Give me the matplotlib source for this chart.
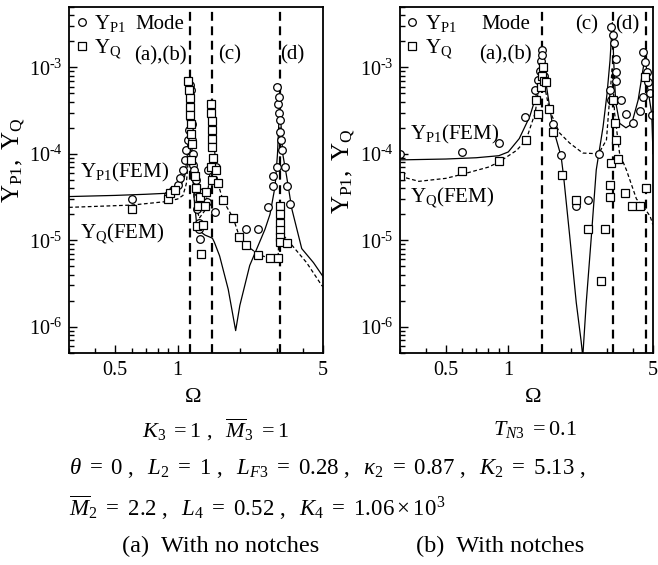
import numpy as np
import matplotlib
matplotlib.use('Agg')
import matplotlib.pyplot as plt
from matplotlib.ticker import FixedLocator, FixedFormatter, NullFormatter, LogLocator, FuncFormatter
from matplotlib.lines import Line2D

plt.rcParams['font.family'] = ['Liberation Serif', 'DejaVu Serif']
plt.rcParams['mathtext.fontset'] = 'custom'
plt.rcParams['mathtext.rm'] = 'Liberation Serif'
plt.rcParams['mathtext.it'] = 'Liberation Serif:italic'
plt.rcParams['mathtext.bf'] = 'Liberation Serif:bold'

# ---------- (a) with no notches ----------
mode_a = [1.15, 1.47, 3.1]

om_p1_fem_a = [0.3, 0.5, 0.7, 0.9, 1.0, 1.04, 1.08, 1.11, 1.13, 1.15, 1.17, 1.2, 1.24, 1.35, 1.45,
               1.47, 1.5, 1.59, 1.75, 1.9, 1.99, 2.22, 2.49, 2.63, 2.78, 2.94, 3.02, 3.07, 3.1,
               3.13, 3.2, 3.34, 3.54, 3.95, 4.5, 5.0]
y_p1_fem_a = [3.2e-5, 3.3e-5, 3.4e-5, 3.5e-5, 3.8e-5, 4.4e-5, 5.5e-5, 9e-5, 2.2e-4, 7e-4, 1.2e-4,
              3e-5, 1.35e-5, 1.15e-5, 1.07e-5, 1.05e-5, 9.5e-6, 6.6e-6, 2.7e-6, 9e-7, 1.76e-6,
              5.1e-6, 9.8e-6, 1.34e-5, 2.0e-5, 4.2e-5, 1.0e-4, 2.5e-4, 6e-4, 2.5e-4, 1.0e-4,
              5.5e-5, 2.3e-5, 8e-6, 5.5e-6, 3.8e-6]

om_q_fem_a = [0.3, 0.6, 0.88, 1.0, 1.06, 1.1, 1.13, 1.15, 1.17, 1.2, 1.27, 1.35, 1.42, 1.45, 1.47,
              1.49, 1.53, 1.56, 1.65, 1.85, 1.98, 2.14, 2.44, 2.78, 3.04, 3.1, 3.16, 3.47, 4.17,
              4.93, 5.0]
y_q_fem_a = [2.4e-5, 2.55e-5, 2.8e-5, 3.0e-5, 3.3e-5, 4.5e-5, 1.0e-4, 5e-4, 1.0e-4, 3.0e-5, 1.8e-5,
             2.2e-5, 5e-5, 1.2e-4, 4e-4, 1.5e-4, 6.5e-5, 4.6e-5, 2.9e-5, 1.8e-5, 1.1e-5, 8.8e-6,
             6.8e-6, 6.2e-6, 6.2e-6, 2.5e-5, 1.2e-5, 9.3e-6, 5.5e-6, 3.0e-6, 2.9e-6]

om_p1_exp_a = [0.6, 0.9, 0.95, 1.0, 1.03, 1.06, 1.08, 1.1, 1.12, 1.13, 1.14, 1.145, 1.15, 1.15,
               1.16, 1.165, 1.17, 1.18, 1.19, 1.2, 1.22, 1.25, 1.24, 1.26, 1.27, 1.28, 1.33, 1.38,
               1.4, 1.53, 1.51, 2.14, 2.44, 2.73, 2.88, 2.88, 2.99, 2.99, 3.04, 3.07, 3.1, 3.13,
               3.16, 3.28, 3.34, 3.47, 3.08, 3.12]
y_p1_exp_a = [3.0e-5, 3.3e-5, 3.8e-5, 4.4e-5, 5.2e-5, 6.5e-5, 8.5e-5, 1.1e-4, 1.45e-4, 1.9e-4,
              2.6e-4, 3.5e-4, 4.6e-4, 6.2e-4, 5.4e-4, 2.2e-4, 1.45e-4, 1.0e-4, 7.5e-5, 6.5e-5,
              5.0e-5, 3.6e-5, 2.3e-5, 1.6e-5, 1.34e-5, 1.03e-5, 3.6e-5, 2.8e-5, 6.5e-5, 7e-5,
              2.1e-5, 1.36e-5, 1.36e-5, 2.4e-5, 4.2e-5, 5.5e-5, 7.1e-5, 5.9e-4, 3.8e-4, 3.0e-4,
              2.46e-4, 1.45e-4, 1.1e-4, 7.1e-5, 4.2e-5, 2.6e-5, 4.5e-4, 1.8e-4]

om_q_exp_a = [0.6, 0.9, 0.915, 0.975, 1.12, 1.13, 1.14, 1.15, 1.15, 1.16, 1.16, 1.17, 1.164, 1.21,
              1.23, 1.253, 1.245, 1.29, 1.28, 1.375, 1.35, 1.33, 1.44, 1.45, 1.46, 1.47, 1.47,
              1.46, 1.48, 1.45, 1.47, 1.53, 1.56, 1.65, 1.85, 1.975, 2.14, 2.44, 2.78, 3.04, 3.1,
              3.1, 3.1, 3.12, 3.1, 3.12, 3.34]
y_q_exp_a = [2.27e-5, 3.0e-5, 3.56e-5, 3.86e-5, 7e-4, 5.5e-4, 4.4e-4, 3.5e-4, 2.8e-4, 2.2e-4,
             1.7e-4, 1.3e-4, 8.5e-5, 5.5e-5, 4e-5, 2.5e-5, 1.45e-5, 6.9e-6, 3.2e-5, 3.6e-5,
             2.5e-5, 1.5e-5, 3.8e-4, 3.0e-4, 2.4e-4, 1.9e-4, 1.5e-4, 1.2e-4, 9e-5, 7e-5, 5e-5,
             6.5e-5, 4.6e-5, 2.9e-5, 1.8e-5, 1.1e-5, 8.8e-6, 6.8e-6, 6.2e-6, 6.2e-6, 2.5e-5,
             2.0e-5, 1.6e-5, 1.3e-5, 1.1e-5, 9.5e-6, 9.4e-6]

# ---------- (b) with notches ----------
mode_b = [1.45, 3.2, 4.62]

om_p1_fem_b = [0.3, 0.5, 0.7, 0.9, 1.0, 1.13, 1.27, 1.36, 1.41, 1.45, 1.5, 1.53, 1.64, 1.8, 1.85,
               1.98, 2.13, 2.25, 2.29, 2.38, 2.52, 2.66, 2.87, 3.0, 3.1, 3.18, 3.24, 3.3, 3.45,
               3.7, 3.94, 4.24, 4.49, 4.6, 4.7, 4.93, 5.0]
y_p1_fem_b = [8.5e-5, 8.7e-5, 9.0e-5, 9.5e-5, 1.05e-4, 1.5e-4, 2.7e-4, 4.6e-4, 8e-4, 1.64e-3,
              9e-4, 6e-4, 2.06e-4, 9.3e-5, 5.5e-5, 1.12e-5, 1.9e-6, 6.7e-7, 4.5e-7, 1.9e-6,
              1.12e-5, 6.5e-5, 2.06e-4, 5e-4, 1.2e-3, 3.3e-3, 1.0e-3, 4e-4, 2.25e-4, 2.0e-4,
              2.2e-4, 4.2e-4, 1.0e-3, 1.5e-3, 6e-4, 2.9e-4, 1.0e-4]

om_q_fem_b = [0.3, 0.37, 0.5, 0.6, 0.8, 0.9, 1.1, 1.22, 1.35, 1.42, 1.45, 1.48, 1.58, 1.77, 1.98,
              2.29, 2.73, 2.98, 3.1, 3.18, 3.26, 3.45, 3.72, 4.16, 4.49, 4.84, 5.0]
y_q_fem_b = [5.5e-5, 4.8e-5, 5.2e-5, 5.8e-5, 7e-5, 8e-5, 1.1e-4, 1.45e-4, 3e-4, 7e-4, 1.2e-3,
             7e-4, 3.2e-4, 1.74e-4, 1.33e-4, 1.02e-4, 1.0e-4, 1.45e-4, 5e-4, 1e-3, 3e-4, 1.0e-4,
             6.5e-5, 3e-5, 2.45e-5, 1.9e-5, 1.5e-5]

om_p1_exp_b = [0.3, 0.6, 0.9, 1.2, 1.34, 1.39, 1.42, 1.44, 1.45, 1.46, 1.47, 1.48, 1.64, 1.8,
               2.13, 2.42, 2.73, 3.15, 3.2, 3.25, 3.33, 3.33, 3.3, 3.09, 3.12, 3.52, 3.72, 4.01,
               4.33, 4.49, 4.49, 4.57, 4.66, 4.74, 4.84, 4.93]
y_p1_exp_b = [1.0e-4, 1.06e-4, 1.35e-4, 2.7e-4, 5.4e-4, 7.1e-4, 9e-4, 1.2e-3, 1.6e-3, 1.4e-3,
              1.0e-3, 8e-4, 2.2e-4, 9.7e-5, 2.5e-5, 2.9e-5, 1.0e-4, 2.9e-3, 2.4e-3, 1.9e-3,
              1.26e-3, 8.8e-4, 7e-4, 5.4e-4, 4.2e-4, 4.2e-4, 2.9e-4, 2.3e-4, 3.1e-4, 4.6e-4,
              1.5e-3, 1.15e-3, 8.8e-4, 6.8e-4, 5e-4, 2.8e-4]

om_q_exp_b = [0.3, 0.6, 0.9, 1.22, 1.36, 1.39, 1.44, 1.46, 1.47, 1.48, 1.525, 1.58, 1.64, 1.82,
              2.13, 2.42, 2.79, 2.92, 3.09, 3.11, 3.15, 3.2, 3.27, 3.33, 3.4, 3.66, 3.94, 4.33,
              4.62, 4.57]
y_q_exp_b = [5.5e-5, 6.3e-5, 8.3e-5, 1.45e-4, 4.2e-4, 2.9e-4, 6e-4, 8e-4, 1.0e-3, 7e-4, 6.8e-4,
             3.3e-4, 1.8e-4, 5.7e-5, 2.95e-5, 1.34e-5, 3.4e-6, 1.34e-5, 3.2e-5, 4.4e-5, 7.8e-5,
             4.2e-4, 2.25e-4, 1.45e-4, 8.6e-5, 3.5e-5, 2.5e-5, 2.5e-5, 4.0e-5, 7.7e-4]

xticks = [0.5, 1, 5]
xtick_labels = ['0.5', '1', '5']
xminor = [0.3, 0.4, 0.6, 0.7, 0.8, 0.9, 2, 3, 4]

YLAB = r'$\mathrm{Y_{P1},\ Y_Q}$'
P1 = r'$\mathrm{Y_{P1}}$'
Q = r'$\mathrm{Y_Q}$'


def decade_label(v, pos):
    e = int(round(np.log10(v)))
    return r'$\mathrm{10^{\text{-}%d}}$' % abs(e) if e < 0 else r'$\mathrm{10^{%d}}$' % e


def setup_axes(ax):
    ax.set_xscale('log')
    ax.set_yscale('log')
    ax.set_xlim(0.3, 5)
    ax.set_ylim(5e-7, 5e-3)
    ax.xaxis.set_major_locator(FixedLocator(xticks))
    ax.xaxis.set_major_formatter(FixedFormatter(xtick_labels))
    ax.xaxis.set_minor_locator(FixedLocator(xminor))
    ax.xaxis.set_minor_formatter(NullFormatter())
    ax.yaxis.set_major_locator(LogLocator(base=10, numticks=10))
    ax.yaxis.set_major_formatter(FuncFormatter(decade_label))
    ax.yaxis.set_minor_locator(LogLocator(base=10, subs=np.arange(2, 10), numticks=20))
    ax.yaxis.set_minor_formatter(NullFormatter())
    ax.tick_params(which='both', direction='in', width=1.0, labelsize=14.5, pad=6)
    ax.tick_params(axis='y', pad=4.5)
    ax.tick_params(which='major', length=6)
    ax.tick_params(which='minor', length=3.5)
    for s in ax.spines.values():
        s.set_linewidth(1.3)
    ax.set_ylabel(YLAB, fontsize=18)
    ax.set_xlabel(r'$\Omega$', fontsize=16)


def draw(ax, modes, om1, y1, om2, y2, oc, yc, osq, ysq):
    for m in modes:
        ax.axvline(m, color='k', lw=1.6, dashes=(4, 2.5))
    ax.plot(om1, y1, color='k', lw=0.9)
    ax.plot(om2, y2, color='k', lw=0.9, dashes=(3, 2))
    ax.plot(oc, yc, 'o', ms=5.5, mfc='white', mec='k', mew=0.9)
    ax.plot(osq, ysq, 's', ms=5.5, mfc='white', mec='k', mew=0.9)
    h = [Line2D([], [], marker='o', ls='none', ms=5.5, mfc='white', mec='k', mew=0.9),
         Line2D([], [], marker='s', ls='none', ms=5.5, mfc='white', mec='k', mew=0.9)]
    ax.legend(h, [P1, Q], loc='upper left', frameon=False, fontsize=15, handlelength=0.6,
              handletextpad=0.3, labelspacing=0.15, borderaxespad=0.2, borderpad=0.1)


fig = plt.figure(figsize=(6.58, 5.65), dpi=100)

ax1 = fig.add_axes([0.1049, 0.3758, 0.3860, 0.6119])
setup_axes(ax1)
draw(ax1, mode_a, om_p1_fem_a, y_p1_fem_a, om_q_fem_a, y_q_fem_a,
     om_p1_exp_a, y_p1_exp_a, om_q_exp_a, y_q_exp_a)
ax1.text(0.358, 0.948, 'Mode', transform=ax1.transAxes, ha='center', va='center', fontsize=15)
ax1.text(0.358, 0.858, '(a),(b)', transform=ax1.transAxes, ha='center', va='center', fontsize=15)
ax1.text(0.634, 0.861, '(c)', transform=ax1.transAxes, ha='center', va='center', fontsize=15)
ax1.text(0.878, 0.861, '(d)', transform=ax1.transAxes, ha='center', va='center', fontsize=15)
ax1.text(0.043, 0.52, P1 + '(FEM)', transform=ax1.transAxes, ha='left', va='center', fontsize=15)
ax1.text(0.043, 0.345, Q + '(FEM)', transform=ax1.transAxes, ha='left', va='center', fontsize=15)
ax1.yaxis.set_label_coords(-0.165, 0.557)
ax1.xaxis.set_label_coords(0.488, -0.102)

ax2 = fig.add_axes([0.6079, 0.3758, 0.3845, 0.6119])
setup_axes(ax2)
draw(ax2, mode_b, om_p1_fem_b, y_p1_fem_b, om_q_fem_b, y_q_fem_b,
     om_p1_exp_b, y_p1_exp_b, om_q_exp_b, y_q_exp_b)
ax2.text(0.419, 0.948, 'Mode', transform=ax2.transAxes, ha='center', va='center', fontsize=15)
ax2.text(0.415, 0.861, '(a),(b)', transform=ax2.transAxes, ha='center', va='center', fontsize=15)
ax2.text(0.739, 0.948, '(c)', transform=ax2.transAxes, ha='center', va='center', fontsize=15)
ax2.text(0.897, 0.948, '(d)', transform=ax2.transAxes, ha='center', va='center', fontsize=15)
ax2.text(0.04, 0.63, P1 + '(FEM)', transform=ax2.transAxes, ha='left', va='center', fontsize=15)
ax2.text(0.04, 0.45, Q + '(FEM)', transform=ax2.transAxes, ha='left', va='center', fontsize=15)
ax2.yaxis.set_label_coords(-0.168, 0.526)
ax2.xaxis.set_label_coords(0.526, -0.102)

fig.text(0.327, 0.239, r'$K_3\ =1\ ,\ \ \overline{M}_3\ =1$', ha='center', va='center', fontsize=16)
fig.text(0.813, 0.239, r'$T_{N3}\ =0.1$', ha='center', va='center', fontsize=16)
fig.text(0.105, 0.172,
         r'$\theta\ =\ 0\ ,\ \ L_2\ =\ 1\ ,\ \ L_{F3}\ =\ 0.28\ ,\ \ \kappa_2\ =\ 0.87\ ,\ \ K_2\ =\ 5.13\ ,$',
         ha='left', va='center', fontsize=16.5)
fig.text(0.105, 0.101, r'$\overline{M}_2\ =\ 2.2\ ,\ \ L_4\ =\ 0.52\ ,\ \ K_4\ =\ 1.06\times10^3$',
         ha='left', va='center', fontsize=16.5)
fig.text(0.336, 0.032, '(a)  With no notches', ha='center', va='center', fontsize=17.5)
fig.text(0.76, 0.032, '(b)  With notches', ha='center', va='center', fontsize=17.5)

plt.savefig('out.png', dpi=100)
